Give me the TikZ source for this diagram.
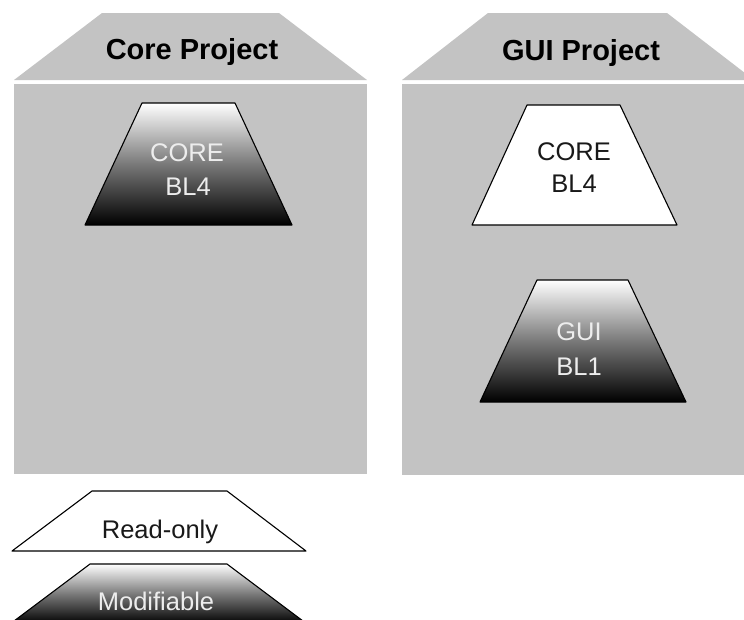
\documentclass[tikz,border=0pt]{standalone}
\usepackage{fontspec}
\setmainfont{Liberation Sans}
\begin{document}
\begin{tikzpicture}[x=1pt,y=-1pt,
  project/.style={fill=projgray,draw=none},
  baseline box/.style={draw=black,line width=1.1pt,line join=round},
  modifiable/.style={baseline box,top color=white,bottom color=black,middle color=gray!95!black},
  readonly/.style={baseline box,fill=white},
  title/.style={font=\fontsize{29}{34}\selectfont\bfseries,anchor=base,inner sep=0pt},
  light label/.style={font=\fontsize{25.5}{30}\selectfont,text=white!93!black,anchor=base,inner sep=0pt},
  dark label/.style={font=\fontsize{25.5}{30}\selectfont,text=black!90,anchor=base,inner sep=0pt}]
\definecolor{projgray}{HTML}{C3C3C3}
\useasboundingbox (0,0) rectangle (744,619);
\clip (0,0) rectangle (744,619);

% Core project: roof and body
\path[project] (102,13) -- (279,13) -- (367,80) -- (14,80) -- cycle;
\path[project] (14,84) rectangle (367,474);
\node[title] (coretitle) at (192,59) {Core Project};

% GUI project: roof and body
\path[project] (488,13) -- (667,13) -- (754,80) -- (402,80) -- cycle;
\path[project] (402,84) rectangle (744,475);
\node[title] (guititle) at (581,60) {GUI Project};

% Baselines inside the Core project
\draw[modifiable] (142,103) -- (235,103) -- (292,225) -- (85,225) -- cycle;
\node[light label] (corecore) at (187,161) {CORE};
\node[light label] (corebl) at (188,195) {BL4};

% Baselines inside the GUI project
\draw[readonly] (527,105) -- (620,105) -- (677,225) -- (472,225) -- cycle;
\node[dark label] (guicore) at (574,160) {CORE};
\node[dark label] (guicorebl) at (574,192) {BL4};

\draw[modifiable] (537,280) -- (628,280) -- (686,402) -- (480,402) -- cycle;
\node[light label] (guigui) at (579,340) {GUI};
\node[light label] (guibl) at (579,375) {BL1};

% Legend
\draw[readonly] (92,491) -- (227,491) -- (306,551) -- (12,551) -- cycle;
\node[dark label] (legro) at (160,538) {Read-only};
\draw[modifiable] (90,564) -- (227,564) -- (307,624) -- (10,624) -- cycle;
\node[light label] (legmod) at (156,610) {Modifiable};
\end{tikzpicture}
\end{document}
